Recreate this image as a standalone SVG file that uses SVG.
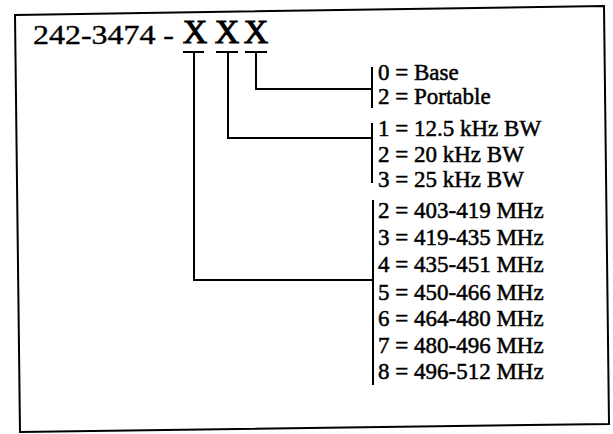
<svg xmlns="http://www.w3.org/2000/svg" width="613" height="434" viewBox="0 0 613 434">
<style>
.ln{fill:none;stroke:#000;stroke-width:2;stroke-linecap:square}
.t{font-family:"Liberation Serif","Times New Roman",serif;font-size:23px;fill:#000;stroke:#000;stroke-width:0.5}
.h{font-family:"Liberation Serif","Times New Roman",serif;font-size:28px;fill:#000;stroke:#000;stroke-width:0.4}
.x{font-family:"Liberation Serif","Times New Roman",serif;font-size:34px;fill:#000;stroke:#000;stroke-width:1;text-anchor:middle}
</style>
<rect width="613" height="434" fill="#fff"/>
<polygon class="ln" points="15,15 604,6 609,424 20,432"/>
<g id="title">
<text class="h" x="33" y="44" textLength="141" lengthAdjust="spacingAndGlyphs">242-3474 -</text>
<text class="x" x="195" y="43">X</text>
<text class="x" x="227" y="43">X</text>
<text class="x" x="256" y="43">X</text>
</g>
<g id="connectors">
<path class="ln" d="M184,52H203M194,52V280H373"/>
<path class="ln" d="M217,52H237M228,52V138H372"/>
<path class="ln" d="M246,52H266M256,52V89H372"/>
<path class="ln" d="M372,68V107"/>
<path class="ln" d="M372,124V182"/>
<path class="ln" d="M373,201V384"/>
</g>
<g id="type">
<text class="t" x="378" y="80">0 = Base</text>
<text class="t" x="378" y="104">2 = Portable</text>
</g>
<g id="bandwidth">
<text class="t" x="378" y="136">1 = 12.5 kHz BW</text>
<text class="t" x="378" y="162">2 = 20 kHz BW</text>
<text class="t" x="378" y="187">3 = 25 kHz BW</text>
</g>
<g id="frequency">
<text class="t" x="378" y="218">2 = 403-419 MHz</text>
<text class="t" x="378" y="245">3 = 419-435 MHz</text>
<text class="t" x="378" y="272">4 = 435-451 MHz</text>
<text class="t" x="378" y="300">5 = 450-466 MHz</text>
<text class="t" x="378" y="326">6 = 464-480 MHz</text>
<text class="t" x="378" y="353">7 = 480-496 MHz</text>
<text class="t" x="378" y="379">8 = 496-512 MHz</text>
</g>
</svg>
